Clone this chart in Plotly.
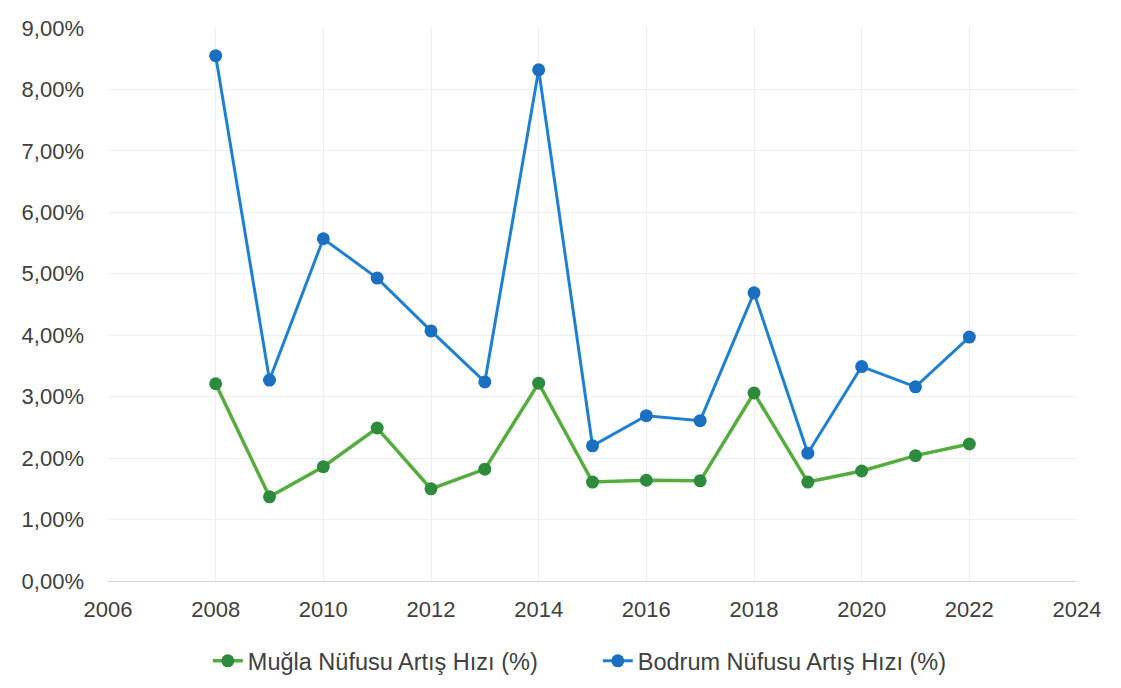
import plotly.graph_objects as go

years = [2008, 2009, 2010, 2011, 2012, 2013, 2014, 2015, 2016, 2017, 2018, 2019, 2020, 2021, 2022]
mugla = [3.21, 1.37, 1.86, 2.49, 1.50, 1.82, 3.22, 1.61, 1.64, 1.63, 3.06, 1.61, 1.79, 2.04, 2.23]
bodrum = [8.55, 3.27, 5.57, 4.93, 4.07, 3.24, 8.32, 2.20, 2.69, 2.61, 4.69, 2.08, 3.49, 3.16, 3.97]
names = ["Muğla Nüfusu Artış Hızı (%)", "Bodrum Nüfusu Artış Hızı (%)"]

fig = go.Figure()
fig.add_trace(go.Scatter(
    x=years, y=[v / 100 for v in mugla], name=names[0], mode="lines+markers",
    line=dict(color="#56ad3e", width=3.5),
    marker=dict(color="#2e8b3e", size=13),
))
fig.add_trace(go.Scatter(
    x=years, y=[v / 100 for v in bodrum], name=names[1], mode="lines+markers",
    line=dict(color="#2080d0", width=3),
    marker=dict(color="#1a6fc0", size=13),
))

fig.update_layout(
    width=1121, height=688,
    margin=dict(l=100, r=52, t=20, b=115),
    paper_bgcolor="white", plot_bgcolor="white",
    separators=",.",
    font=dict(family="Liberation Sans, Arial, sans-serif", size=22, color="#404040"),
    legend=dict(orientation="h", x=0.103, xanchor="left", y=-0.105, yanchor="top",
                font=dict(size=23.5, color="#404040"), entrywidth=345, entrywidthmode="pixels"),
    xaxis=dict(range=[2006, 2024], tickmode="linear", tick0=2006, dtick=2,
               showgrid=True, gridcolor="#eeeef2", gridwidth=1,
               showline=True, linecolor="#d6d6dc", linewidth=1,
               ticks="", zeroline=False, automargin=False, ticklabelstandoff=9),
    yaxis=dict(range=[0, 0.09], tickmode="linear", tick0=0, dtick=0.01, tickformat=".2%",
               showgrid=True, gridcolor="#eeeef2", gridwidth=1,
               zeroline=False, showline=False, ticks="", automargin=False,
               ticklabelstandoff=23),
)

fig.write_html("out.html")
